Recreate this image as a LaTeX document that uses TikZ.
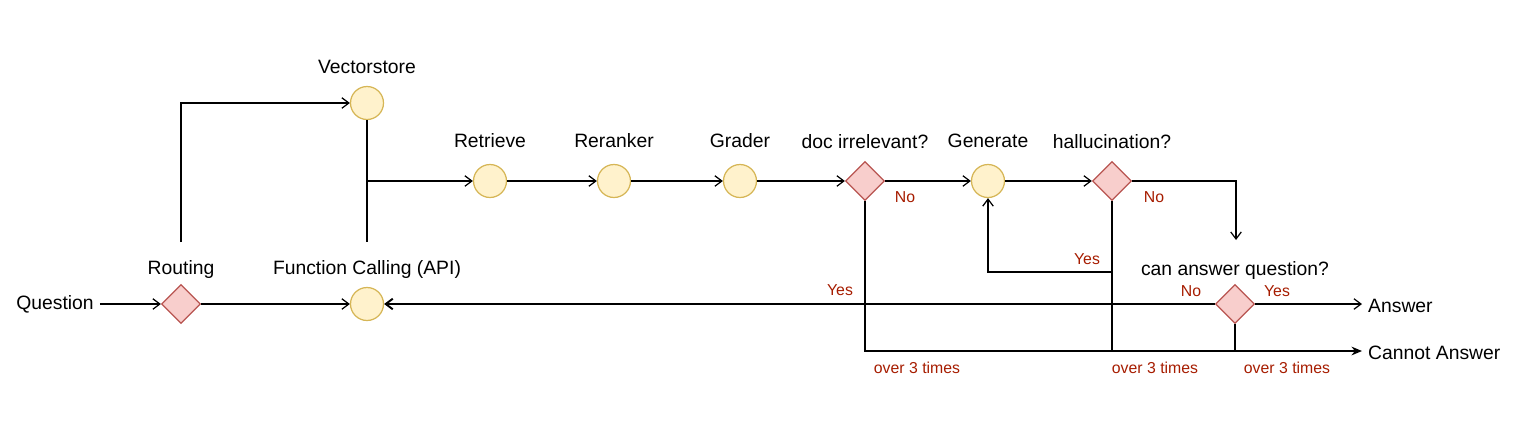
\documentclass[tikz,border=0pt]{standalone}
\usepackage{fontspec}
\setmainfont{Liberation Sans}
\usetikzlibrary{shapes.geometric,arrows.meta}
\definecolor{procfill}{HTML}{FFF2CC}
\definecolor{procline}{HTML}{D6B656}
\definecolor{checkfill}{HTML}{F8CECC}
\definecolor{checkline}{HTML}{B85450}
\definecolor{anstext}{HTML}{A61C00}
\begin{document}
\begin{tikzpicture}[x=0.02cm, y=-0.02cm,
    >={Straight Barb[length=4pt,width=6pt]},
    every node/.style={font=\fontsize{11}{13}\selectfont},
    every label/.style={text depth=0pt},
    label distance=0.13cm,
    proc/.style={circle, draw=procline, fill=procfill, line width=0.7pt, minimum size=0.66cm, inner sep=0pt},
    check/.style={diamond, draw=checkline, fill=checkfill, line width=0.7pt, minimum size=0.78cm, inner sep=0pt},
    flow/.style={draw, line width=0.7pt},
    ans/.style={text=anstext, font=\fontsize{9}{11}\selectfont}
    ]
    \useasboundingbox (0,0) rectangle (1536,424);
    % nodes
    \node (question) at (55,304) {Question};
    \node[check, label={[label distance=0.07cm]above:Routing}] (routing) at (181,304) {};
    \node[proc, label=above:Vectorstore] (vec) at (367,103) {};
    \node[proc, label={above:Function Calling (API)}] (fc) at (367,304) {};
    \node[proc, label={[label distance=0.21cm]above:Retrieve}] (ret) at (490,181) {};
    \node[proc, label={[label distance=0.21cm]above:Reranker}] (rer) at (614,181) {};
    \node[proc, label={[label distance=0.21cm]above:Grader}] (grader) at (740,181) {};
    \node[check, label=above:doc irrelevant?] (docirr) at (865,181) {};
    \node[proc, label={[label distance=0.21cm]above:Generate}] (gen) at (988,181) {};
    \node[check, label=above:hallucination?] (halluc) at (1112,181) {};
    \node[check, label={[label distance=0.05cm]above:can answer question?}] (canq) at (1235,304) {};
    \node[anchor=west] (answer) at (1362,306) {Answer};
    \node[anchor=west] (cannot) at (1362,353) {Cannot Answer};
    \coordinate (routup) at (181,242);
    \coordinate (vecdown) at (367,242);
    \coordinate (hallno) at (1236,240);
    \coordinate (hallyes) at (1112,272);
    % connectors
    \draw[flow,->] (question) -- (routing);
    \draw[flow,->] (routing) -- (fc);
    \draw[flow,->] (routup) |- (vec);
    \draw[flow] (vec) -- (vecdown);
    \draw[flow,->] (vec |- ret) -- (ret);
    \draw[flow,->] (ret) -- (rer);
    \draw[flow,->] (rer) -- (grader);
    \draw[flow,->] (grader) -- (docirr);
    \draw[flow,->] (docirr) -- (gen);
    \draw[flow,->] (gen) -- (halluc);
    \draw[flow,->] (halluc) -| (hallno);
    \draw[flow,->,line width=1.1pt] (docirr) |- (fc);
    \draw[flow] (canq) -- (docirr |- canq);
    \draw[flow,->] (canq) -- (canq -| answer.west);
    \draw[flow,-{Stealth[length=6pt,width=5pt]}] (docirr |- fc) |- (cannot.west |- 0,351);
    \draw[flow,line width=1pt] (halluc) -- (halluc |- cannot.west |- 0,351);
    \draw[flow,->] (hallyes) -| (gen);
    \draw[flow] (canq) -- (canq |- 0,351);
    % answer labels
    \node[ans] (docno) at (905,197) {No};
    \node[ans] (docyes) at (840,290) {Yes};
    \node[ans] (docover) at (917,368) {over 3 times};
    \node[ans] (hallnotext) at (1154,197) {No};
    \node[ans] (hallyestext) at (1087,259) {Yes};
    \node[ans] (hallover) at (1155,368) {over 3 times};
    \node[ans] (canqno) at (1191,291) {No};
    \node[ans] (canqyes) at (1277,291) {Yes};
    \node[ans] (canqover) at (1287,368) {over 3 times};
\end{tikzpicture}
\end{document}
